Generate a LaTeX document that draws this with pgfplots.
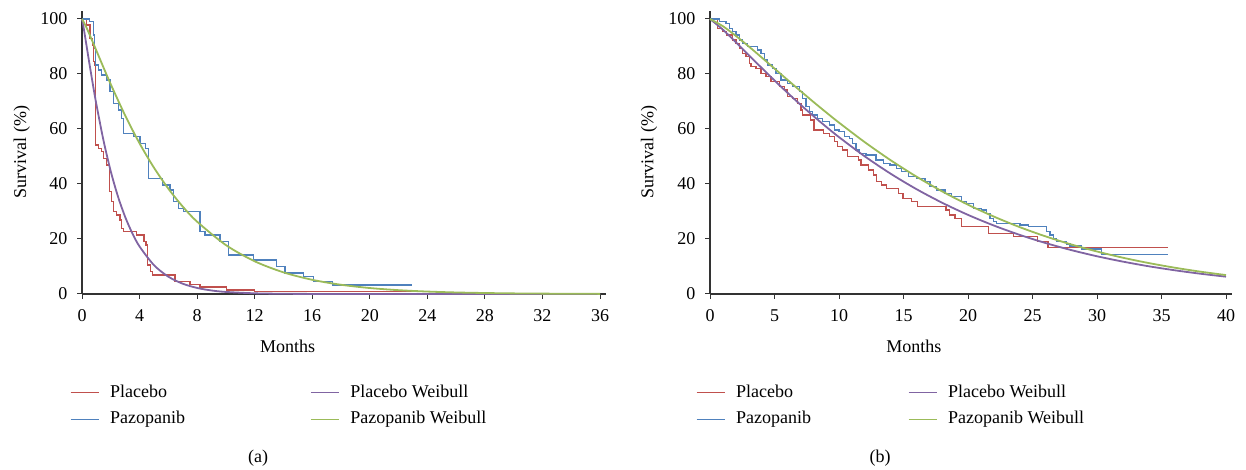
\documentclass[border=0pt]{standalone}
\usepackage{fontspec}
\setmainfont{Liberation Serif}
\usepackage{pgfplots}
\pgfplotsset{compat=1.18}
\definecolor{kmred}{HTML}{C0504D}
\definecolor{kmblue}{HTML}{4F81BD}
\definecolor{wbpurple}{HTML}{8064A2}
\definecolor{wbgreen}{HTML}{9BBB59}
\definecolor{axgray}{HTML}{333333}

\newcommand{\ff}{\fontsize{18}{22}\selectfont}

\pgfplotsset{
  surv/.style={
    scale only axis, height=275pt, ymin=0, ymax=100, ytick={0,20,...,100},
    axis lines=left, axis line style={-,axgray,line width=1.1pt},
    x axis line style={shorten >=-6pt}, y axis line style={shorten >=-8pt},
    tick align=outside, major tick length=5pt,
    tick style={axgray,line width=1pt},
    /pgf/number format/assume math mode=true,
    tick label style={font=\ff},
    xticklabel style={yshift=-7pt},
    yticklabel style={xshift=-6pt},
    label style={font=\ff},
    xlabel={Months}, ylabel={Survival (\%)},
    clip=false,
    legend columns=2,
    legend image code/.code={\draw[##1] (0pt,0pt) -- (28pt,0pt);},
    legend style={draw=none, fill=none, inner sep=0pt, outer sep=0pt, font=\ff,
      anchor=north west, row sep=9.6pt,
      nodes={inner sep=0pt, text height=13pt, text depth=4pt},
      /tikz/every odd column/.append style={column sep=11pt}},
    legend cell align=left,
  },
  km/.style={const plot, line width=1.3pt, forget plot},
  wb/.style={smooth, line width=1.8pt, forget plot},
}

\begin{document}
\begin{tikzpicture}
\useasboundingbox (0,0) rectangle (1246pt,470pt);

% (a)
\begin{axis}[surv, at={(82pt,176pt)}, anchor=south west, width=518pt,
  xmin=0, xmax=36, xtick={0,4,...,36},
  xlabel style={at={(axis description cs:0.397,0)}, anchor=base, yshift=-59pt},
  ylabel style={at={(axis description cs:-0.108,0.516)}, anchor=base},
  legend style={at={(axis description cs:-0.0232,-0.3273)}}]
\addplot[km,kmred] coordinates {(0,100) (0.3,97.8) (0.55,93) (0.75,90.5) (0.82,84.5) (0.88,83.3) (0.95,54.2) (1.13,53) (1.37,51.8) (1.48,49.3) (1.71,46.9) (1.9,37.2) (2.06,33.6) (2.18,29.9) (2.41,28.7) (2.64,26.9) (2.76,23.9) (2.87,22.7) (3.8,21.5) (4.3,19.0) (4.45,17.8) (4.56,10.5) (4.75,8.1) (4.9,6.9) (6.46,4.5) (7.5,3.4) (8.2,2.5) (10.05,1.5) (12.0,0.8) (23.1,0.8)};
\addplot[km,kmblue] coordinates {(0,100) (0.5,99) (0.8,94.2) (0.88,89.3) (0.95,83.3) (1.13,81.5) (1.37,79.6) (1.72,77.8) (1.95,73.6) (2.18,69.3) (2.52,66.9) (2.76,63.9) (2.87,58.4) (3.6,57.2) (4.03,54.8) (4.4,53.0) (4.61,42.1) (5.6,39.6) (6.12,37.8) (6.35,33.6) (6.69,31.1) (7.04,29.9) (8.2,22.7) (8.55,21.5) (9.6,19.0) (10.17,14.2) (11.9,12.4) (13.5,9.9) (14.1,7.6) (15.4,6.3) (16.1,4.5) (17.4,3.3) (22.9,3.3)};
\addplot[wb,wbpurple] coordinates {(0,100) (0.1,97.22) (0.25,92.43) (0.5,84.28) (0.75,76.39) (1,68.96) (1.5,55.69) (2,44.59) (2.5,35.45) (3,28.03) (3.5,22.05) (4,17.28) (5,10.50) (6,6.30) (7,3.74) (8,2.20) (9,1.28) (10,0.75) (12,0.25) (14,0.08) (16,0.03) (20,0) (28,0) (36,0)};
\addplot[wb,wbgreen] coordinates {(0,100) (0.25,97.55) (0.5,94.64) (1,88.50) (1.5,82.30) (2,76.24) (3,64.91) (4,54.78) (5,45.94) (6,38.31) (7,31.80) (8,26.30) (10,17.79) (12,11.90) (14,7.87) (16,5.16) (18,3.36) (20,2.17) (22,1.39) (24,0.89) (26,0.56) (28,0.36) (30,0.22) (32,0.14) (34,0.09) (36,0.05)};
\addlegendimage{kmred,line width=1.2pt}
\addlegendentry{\makebox[200pt][l]{Placebo}}
\addlegendimage{wbpurple,line width=1.2pt}
\addlegendentry{Placebo Weibull}
\addlegendimage{kmblue,line width=1.2pt}
\addlegendentry{\makebox[200pt][l]{Pazopanib}}
\addlegendimage{wbgreen,line width=1.2pt}
\addlegendentry{Pazopanib Weibull}
\end{axis}

% (b)
\begin{axis}[surv, at={(710pt,176pt)}, anchor=south west, width=516pt,
  xmin=0, xmax=40, xtick={0,5,...,40},
  xlabel style={at={(axis description cs:0.395,0)}, anchor=base, yshift=-59pt},
  ylabel style={at={(axis description cs:-0.110,0.516)}, anchor=base},
  legend style={at={(axis description cs:-0.0271,-0.3273)}}]
\addplot[km,kmred] coordinates {(0,100) (0.6,96.6) (0.98,95.4) (1.3,94.2) (1.76,92.4) (2.02,91.2) (2.27,89.3) (2.53,87.5) (2.79,86.3) (3.05,83.9) (3.18,82.7) (3.57,82.1) (3.95,80.3) (4.34,79.0) (4.73,77.2) (5.4,75.4) (5.76,74.2) (6.02,71.8) (6.41,71.2) (6.8,69.3) (7.05,66.9) (7.18,65.1) (7.8,63.3) (8.05,59.6) (8.8,58.4) (9.25,57.2) (9.64,55.4) (9.9,53.6) (10.29,52.4) (10.67,49.9) (11.5,48.7) (11.7,46.9) (12.3,45.1) (12.66,43.3) (12.92,40.8) (13.31,39.6) (13.7,38.4) (14.6,36.6) (14.95,34.8) (15.6,33.6) (16.1,31.8) (18.3,30.5) (18.55,28.7) (19.0,27.5) (19.5,24.5) (21.6,22.1) (23.5,20.8) (25.4,19.0) (26.2,16.8) (35.5,16.8)};
\addplot[km,kmblue] coordinates {(0,100) (0.72,99) (1.24,98.4) (1.5,96.6) (1.76,95.4) (2.02,94.2) (2.27,92.4) (2.53,91.2) (2.92,89.9) (3.7,88.7) (3.95,87.5) (4.21,85.1) (4.47,83.3) (4.86,82.1) (5.12,80.3) (5.5,77.8) (6.02,76.6) (6.41,75.4) (6.93,73.6) (7.18,71.2) (7.44,68.1) (7.7,66.3) (7.96,65.1) (8.35,63.9) (8.74,62.7) (9.25,61.5) (9.64,59.6) (10.0,59.0) (10.41,57.2) (10.8,56.6) (11.06,54.8) (11.32,52.4) (11.57,51.2) (12.09,50.5) (12.87,48.7) (13.43,47.5) (13.95,46.9) (14.47,45.7) (14.86,44.5) (15.37,42.7) (16.02,42.1) (16.67,40.8) (17.05,39.0) (17.57,37.8) (18.22,36.6) (18.73,35.4) (19.51,33.6) (19.9,33.0) (20.41,31.2) (21.06,30.5) (21.45,29.3) (21.7,27.5) (21.96,26.3) (22.2,25.7) (24.03,25.1) (24.68,24.5) (26.1,22.7) (26.36,21.5) (26.61,20.2) (26.87,19.0) (27.65,18.2) (27.9,17.5) (28.8,16.4) (30.36,14.3) (35.5,14.3)};
\addplot[wb,wbpurple] coordinates {(0,100) (1,96.11) (2,91.56) (3,86.88) (4,82.23) (5,77.65) (6,73.20) (7,68.90) (8,64.77) (9,60.82) (10,57.04) (12,50.04) (14,43.75) (16,38.14) (18,33.17) (20,28.77) (22,24.90) (24,21.51) (26,18.55) (28,15.97) (30,13.72) (32,11.78) (34,10.09) (36,8.64) (38,7.38) (40,6.30)};
\addplot[wb,wbgreen] coordinates {(0,100) (1,97.37) (2,93.87) (3,90.03) (4,86.03) (5,81.96) (6,77.90) (7,73.87) (8,69.91) (9,66.06) (10,62.31) (12,55.20) (14,48.66) (16,42.69) (18,37.30) (20,32.46) (22,28.16) (24,24.33) (26,20.97) (28,18.02) (30,15.45) (32,13.20) (34,11.26) (36,9.58) (38,8.13) (40,6.88)};
\addlegendimage{kmred,line width=1.2pt}
\addlegendentry{\makebox[171.7pt][l]{Placebo}}
\addlegendimage{wbpurple,line width=1.2pt}
\addlegendentry{Placebo Weibull}
\addlegendimage{kmblue,line width=1.2pt}
\addlegendentry{\makebox[171.7pt][l]{Pazopanib}}
\addlegendimage{wbgreen,line width=1.2pt}
\addlegendentry{Pazopanib Weibull}
\end{axis}

\node[font=\ff] at (258pt,12pt) {(a)};
\node[font=\ff] at (880pt,12pt) {(b)};
\end{tikzpicture}
\end{document}
